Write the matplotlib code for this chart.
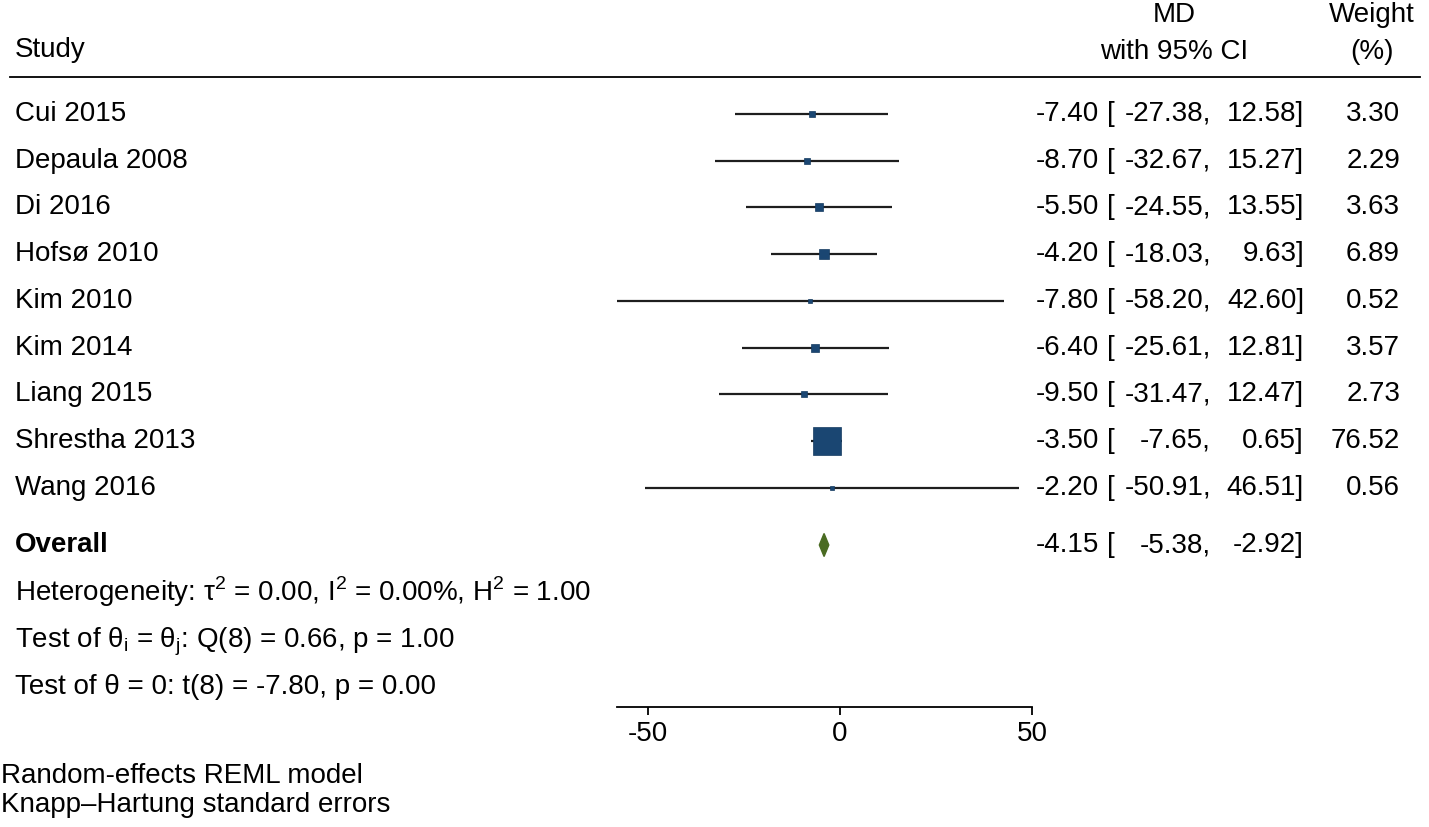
import matplotlib
matplotlib.use('Agg')
import matplotlib.pyplot as plt
from matplotlib.transforms import blended_transform_factory

# study data
studies = ["Cui 2015", "Depaula 2008", "Di 2016", "Hofsø 2010", "Kim 2010",
           "Kim 2014", "Liang 2015", "Shrestha 2013", "Wang 2016"]
md = [-7.40, -8.70, -5.50, -4.20, -7.80, -6.40, -9.50, -3.50, -2.20]
ci_low = [-27.38, -32.67, -24.55, -18.03, -58.20, -25.61, -31.47, -7.65, -50.91]
ci_high = [12.58, 15.27, 13.55, 9.63, 42.60, 12.81, 12.47, 0.65, 46.51]
weights = [3.30, 2.29, 3.63, 6.89, 0.52, 3.57, 2.73, 76.52, 0.56]

overall_md = -4.15
overall_low = -5.38
overall_high = -2.92

stats_lines = [
    r"Heterogeneity: τ$^\mathregular{2}$ = 0.00, I$^\mathregular{2}$ = 0.00%, H$^\mathregular{2}$ = 1.00",
    r"Test of θ$_\mathregular{i}$ = θ$_\mathregular{j}$: Q(8) = 0.66, p = 1.00",
    r"Test of θ = 0: t(8) = -7.80, p = 0.00",
]
notes = ["Random-effects REML model", "Knapp\u2013Hartung standard errors"]
xticks = [-50, 0, 50]

plt.rcParams['font.family'] = ['Liberation Sans', 'DejaVu Sans']
plt.rcParams['mathtext.fontset'] = 'custom'
plt.rcParams['mathtext.rm'] = 'Liberation Sans'
plt.rcParams['font.size'] = 20

W, H = 1429, 827
PX_UNIT = 3.84      # pixels per MD unit
X0 = 840            # pixel of MD = 0
ROW0, ROWH = 114, 46.7

fig = plt.figure(figsize=(W / 100, H / 100), dpi=100)
ax = fig.add_axes([0, 0, 1, 1])
ax.set_xlim(-X0 / PX_UNIT, (W - X0) / PX_UNIT)
ax.set_ylim((H - ROW0) / ROWH, -ROW0 / ROWH)

def row(px):
    return (px - ROW0) / ROWH

tr = blended_transform_factory(ax.transAxes, ax.transData)
def fx(px):
    return px / W

navy = '#1a4672'
line_c = '#1e1e1e'
green = '#4a6b22'

def ci_text(y, est, lo, hi):
    ax.text(fx(1099), y, f"{est:.2f}", transform=tr, ha='right', va='center')
    ax.text(fx(1107), y, "[", transform=tr, ha='left', va='center')
    ax.text(fx(1211), y, f"{lo:.2f},", transform=tr, ha='right', va='center')
    ax.text(fx(1304), y, f"{hi:.2f}]", transform=tr, ha='right', va='center')

# header
ax.text(fx(15), row(50), "Study", transform=tr, ha='left', va='center')
ax.text(fx(1174), row(15), "MD", transform=tr, ha='center', va='center')
ax.text(fx(1174), row(52), "with 95% CI", transform=tr, ha='center', va='center')
ax.text(fx(1372), row(15), "Weight", transform=tr, ha='center', va='center')
ax.text(fx(1372), row(52), "(%)", transform=tr, ha='center', va='center')
ax.axhline(row(77), xmin=fx(10), xmax=fx(1420), color='black', lw=1.3)

# studies
for i, name in enumerate(studies):
    y = i
    ax.plot([ci_low[i], ci_high[i]], [y, y], color=line_c, lw=1.6, solid_capstyle='butt', zorder=2)
    side_px = max(3.2 * weights[i] ** 0.5 + 1.0, 4.0)
    ax.plot(md[i], y, marker='s', ms=side_px * 0.72, color=navy,
            markeredgecolor='#143a60', markeredgewidth=0.5, zorder=3)
    ax.text(fx(15), y, name, transform=tr, ha='left', va='center')
    ci_text(y, md[i], ci_low[i], ci_high[i])
    ax.text(fx(1400), y, f"{weights[i]:.2f}", transform=tr, ha='right', va='center')

# overall
yo = row(545)
hh = 11.5 / ROWH
ax.fill([overall_low, overall_md, overall_high, overall_md],
        [yo, yo - hh, yo, yo + hh], color=green, zorder=3)
ax.text(fx(15), yo, "Overall", transform=tr, ha='left', va='center', fontweight='bold')
ci_text(yo, overall_md, overall_low, overall_high)

# heterogeneity and tests, placed on the baseline
for k, s in enumerate(stats_lines):
    ax.text(fx(15), row(591 + 46.5 * k + 10), s, transform=tr, ha='left', va='baseline')

for k, s in enumerate(notes):
    ax.text(fx(1), row(776 + 29 * k), s, transform=tr, ha='left', va='center')

# axis
for sp in ['top', 'left', 'right']:
    ax.spines[sp].set_visible(False)
ax.spines['bottom'].set_position(('data', row(707)))
ax.spines['bottom'].set_bounds(min(ci_low), max(xticks))
ax.spines['bottom'].set_linewidth(1.3)
ax.set_xticks(xticks)
ax.set_xticklabels([str(t) for t in xticks])
ax.tick_params(axis='x', direction='out', length=6, width=1.3, pad=4)
ax.set_yticks([])
ax.patch.set_alpha(0)

fig.savefig('out.png', dpi=100)
